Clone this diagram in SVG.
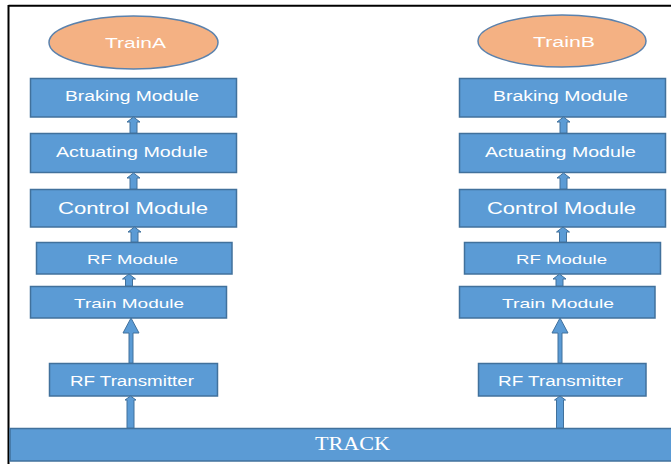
<svg xmlns="http://www.w3.org/2000/svg" width="671" height="464" viewBox="0 0 671 464">
<style>
.box{fill:#5B9BD5;stroke:#41719C;stroke-width:1.5}
.oval{fill:#F4B183;stroke:#5B82AD;stroke-width:1.5}
.arr{fill:#5B9BD5;stroke:#41719C;stroke-width:1}
.t{fill:#FFFFFF;font-family:"Liberation Sans",Arial,sans-serif;text-anchor:start}
.track{fill:#FFFFFF;font-family:"Liberation Serif","Times New Roman",serif;font-size:18px}
</style>
<rect x="0" y="0" width="671" height="464" fill="#FFFFFF"/>
<g id="frame">
<line x1="8.5" y1="5.8" x2="671" y2="5.8" stroke="#000" stroke-width="2"/>
<line x1="8.5" y1="5" x2="8.5" y2="464" stroke="#000" stroke-width="2"/>
</g>
<g id="track">
<rect x="10" y="428.5" width="662" height="32.5" fill="#5B9BD5" stroke="#41719C" stroke-width="1.5"/>
<text class="track" x="315" y="450" textLength="75" lengthAdjust="spacingAndGlyphs">TRACK</text>
</g>
<g id="trainA">
<ellipse class="oval" cx="133.5" cy="42.5" rx="84.5" ry="26.5"/>
<text class="t" x="105" y="48" font-size="14" textLength="61" lengthAdjust="spacingAndGlyphs">TrainA</text>
</g>
<g id="brakingA">
<rect class="box" x="30.5" y="78.5" width="206" height="38.5"/>
<text class="t" x="65" y="101" font-size="14" textLength="134" lengthAdjust="spacingAndGlyphs">Braking Module</text>
</g>
<g id="actuatingA">
<rect class="box" x="30.5" y="133.5" width="206" height="39"/>
<text class="t" x="56" y="157" font-size="14" textLength="152" lengthAdjust="spacingAndGlyphs">Actuating Module</text>
</g>
<g id="controlA">
<rect class="box" x="30.5" y="189.5" width="206" height="37.5"/>
<text class="t" x="58" y="213.5" font-size="16" textLength="150" lengthAdjust="spacingAndGlyphs">Control Module</text>
</g>
<g id="rfmoduleA">
<rect class="box" x="36.5" y="242.5" width="195.5" height="31.5"/>
<text class="t" x="87" y="264" font-size="13" textLength="91" lengthAdjust="spacingAndGlyphs">RF Module</text>
</g>
<g id="trainmoduleA">
<rect class="box" x="30.5" y="286.5" width="196" height="31.5"/>
<text class="t" x="74" y="308" font-size="13" textLength="110" lengthAdjust="spacingAndGlyphs">Train Module</text>
</g>
<g id="rftxA">
<rect class="box" x="49.5" y="363.5" width="168" height="32.5"/>
<text class="t" x="70" y="386" font-size="14" textLength="124" lengthAdjust="spacingAndGlyphs">RF Transmitter</text>
</g>
<g id="trainB">
<ellipse class="oval" cx="562" cy="41" rx="84" ry="26"/>
<text class="t" x="533" y="47" font-size="14" textLength="62" lengthAdjust="spacingAndGlyphs">TrainB</text>
</g>
<g id="brakingB">
<rect class="box" x="459.5" y="78.5" width="206" height="38.5"/>
<text class="t" x="493" y="101" font-size="14" textLength="135" lengthAdjust="spacingAndGlyphs">Braking Module</text>
</g>
<g id="actuatingB">
<rect class="box" x="459.5" y="133.5" width="206" height="39"/>
<text class="t" x="485" y="157" font-size="14" textLength="151" lengthAdjust="spacingAndGlyphs">Actuating Module</text>
</g>
<g id="controlB">
<rect class="box" x="459.5" y="189.5" width="206" height="37.5"/>
<text class="t" x="487" y="213.5" font-size="16" textLength="149" lengthAdjust="spacingAndGlyphs">Control Module</text>
</g>
<g id="rfmoduleB">
<rect class="box" x="464.5" y="242.5" width="196" height="31.5"/>
<text class="t" x="516" y="264" font-size="13" textLength="91" lengthAdjust="spacingAndGlyphs">RF Module</text>
</g>
<g id="trainmoduleB">
<rect class="box" x="459.5" y="286.5" width="195.5" height="31.5"/>
<text class="t" x="502" y="308" font-size="13" textLength="112" lengthAdjust="spacingAndGlyphs">Train Module</text>
</g>
<g id="rftxB">
<rect class="box" x="478.5" y="363.5" width="167.5" height="32.5"/>
<text class="t" x="498" y="386" font-size="14" textLength="125" lengthAdjust="spacingAndGlyphs">RF Transmitter</text>
</g>
<g id="connectors">
<path class="arr" d="M130,133 L130,122 L127,122 L133.5,117 L140,122 L137,122 L137,133 Z"/>
<path class="arr" d="M130,189 L130,178 L127,178 L133.5,173 L140,178 L137,178 L137,189 Z"/>
<path class="arr" d="M131,242 L131,232 L128,232 L134.5,227 L141,232 L138,232 L138,242 Z"/>
<path class="arr" d="M125.5,286 L125.5,279 L122.5,279 L129,274 L135.5,279 L132.5,279 L132.5,286 Z"/>
<path class="arr" d="M129,363 L129,333 L123,333 L131,318 L139,333 L133,333 L133,363 Z"/>
<path class="arr" d="M127,428 L127,400 L125,400 L130.5,396 L136,400 L134,400 L134,428 Z"/>
<path class="arr" d="M560,133 L560,122 L557,122 L563.5,117 L570,122 L567,122 L567,133 Z"/>
<path class="arr" d="M560,189 L560,178 L557,178 L563.5,173 L570,178 L567,178 L567,189 Z"/>
<path class="arr" d="M559.5,242 L559.5,232 L556.5,232 L563,227 L569.5,232 L566.5,232 L566.5,242 Z"/>
<path class="arr" d="M556,286 L556,279 L553,279 L559.5,274 L566,279 L563,279 L563,286 Z"/>
<path class="arr" d="M558,363 L558,333 L552,333 L560,318 L568,333 L562,333 L562,363 Z"/>
<path class="arr" d="M556.5,428 L556.5,400 L554.5,400 L560,396 L565.5,400 L563.5,400 L563.5,428 Z"/>
</g>
</svg>
